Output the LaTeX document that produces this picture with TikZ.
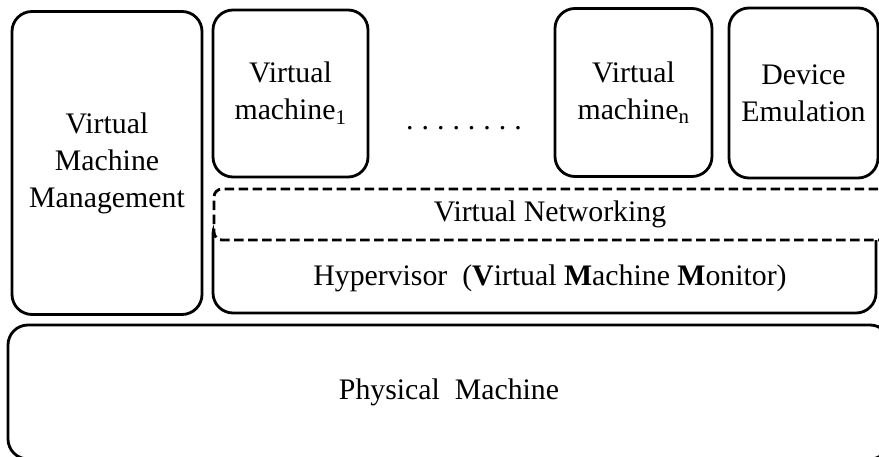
\documentclass[tikz,border=0pt]{standalone}
\usepackage{fontspec}
\setmainfont{Liberation Serif}
\usetikzlibrary{positioning}
\newcommand{\layerfont}{\fontsize{29.8}{37}\selectfont}
\tikzset{
    layer/.style={draw=black, line width=2.8pt, rounded corners=20pt,
        align=center, inner sep=0pt, font=\layerfont},
    netlayer/.style={layer, fill=white, dash pattern=on 9.5pt off 4.5pt,
        rounded corners=8pt},
    caption/.style={inner sep=0pt, font=\layerfont},
}

\begin{document}
\begin{tikzpicture}[x=1pt,y=-1pt]
        \useasboundingbox (0,0) rectangle (879,457);

        \node[layer, minimum width=190pt, minimum height=303pt] (mgmt) at (107,163)
        {Virtual\\Machine\\Management};

        \node[layer, minimum width=155pt, minimum height=167pt] (vmone) at (290.5,93.5)
        {Virtual\\machine\textsubscript{1}};
        \node[caption] (dots) at (464,128) {.\hspace{8pt}.\hspace{8pt}.\hspace{8pt}.\hspace{8pt}.\hspace{8pt}.\hspace{8pt}.\hspace{8pt}.};
        \node[layer, minimum width=157pt, minimum height=168pt] (vmn) at (633.5,92.5)
        {Virtual\\machine\textsubscript{n}};
        \node[layer, minimum width=149pt, minimum height=170pt] (devemu) at (803.5,93)
        {Device\\Emulation};

        \node[layer, minimum width=663pt, minimum height=99pt] (hyp) at (544.5,263.5) {};
        \node[netlayer, minimum width=686pt, minimum height=51pt] (net) at (557,214.5) {};
        \node[caption] (nettext) at (550,214) {Virtual Networking};
        \node[caption] (hyptext) at (550,278)
        {Hypervisor\ \ (\textbf{V}irtual \textbf{M}achine \textbf{M}onitor)};

        \node[layer, minimum width=882pt, minimum height=134pt] (phys) at (449,392)
        {Physical\ \ Machine};
\end{tikzpicture}
\end{document}
